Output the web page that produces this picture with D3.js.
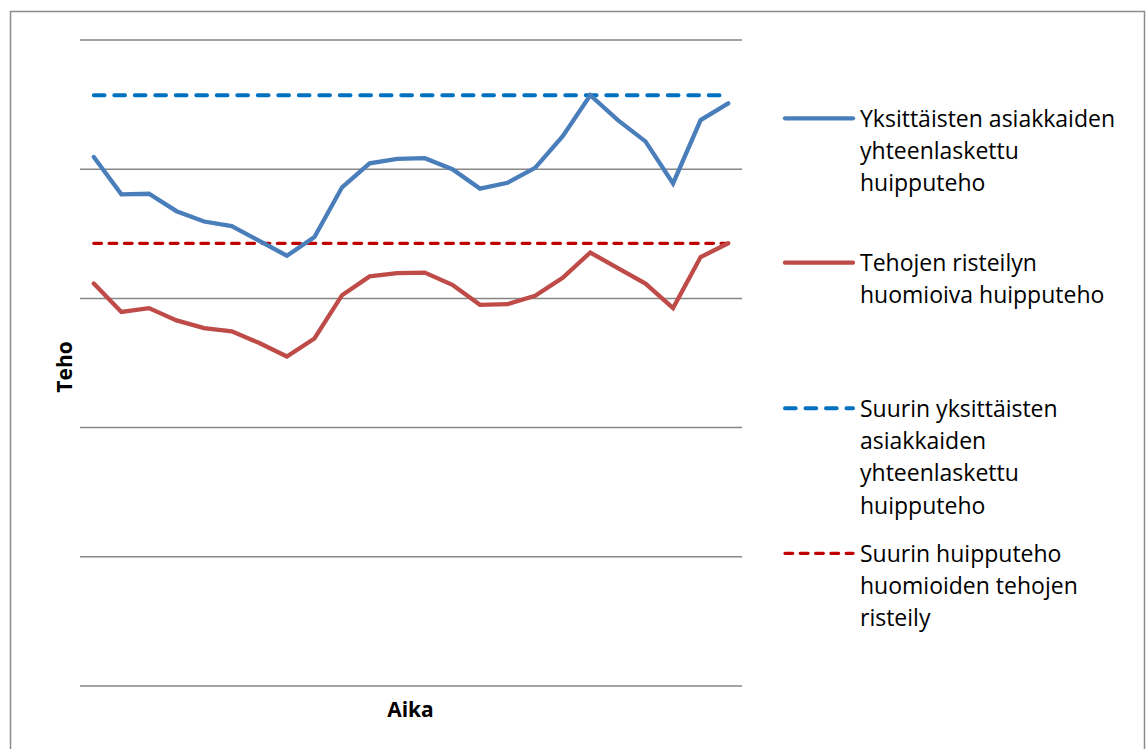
<!DOCTYPE html>
<html><head><meta charset="utf-8">
<script src="https://cdn.jsdelivr.net/npm/d3@7"></script>
<style>body{margin:0;background:#fff}svg{display:block}</style>
</head><body>
<svg id="c" width="1146" height="749"></svg>
<script>
const categories = d3.range(1, 25).map(String);
const yksittaiset = [81.9, 76.1, 76.2, 73.5, 71.9, 71.2, 68.9, 66.6, 69.5, 77.2, 80.9, 81.6,
                     81.7, 80.0, 77.0, 77.9, 80.2, 85.1, 91.45, 87.6, 84.3, 77.8, 87.6, 90.2];
const risteily = [62.3, 57.9, 58.5, 56.6, 55.4, 54.9, 53.1, 51.0, 53.8, 60.5, 63.4, 63.9,
                  64.0, 62.1, 59.0, 59.1, 60.4, 63.2, 67.1, 64.7, 62.3, 58.5, 66.4, 68.53];
const yTicks = [0, 20, 40, 60, 80, 100];
const seriesNames = [
  ["Yksittäisten asiakkaiden", "yhteenlaskettu", "huipputeho"],
  ["Tehojen risteilyn", "huomioiva huipputeho"],
  ["Suurin yksittäisten", "asiakkaiden", "yhteenlaskettu", "huipputeho"],
  ["Suurin huipputeho", "huomioiden tehojen", "risteily"]
];
const xTitle = "Aika", yTitle = "Teho";

const svg = d3.select("#c");
const FONT = "'Open Sans', sans-serif";
svg.append("rect").attr("x", 10.5).attr("y", 11.5).attr("width", 1134).attr("height", 760)
  .attr("fill", "#fff").attr("stroke", "#8c8c8c").attr("stroke-width", 1.5);

const x = d3.scalePoint().domain(categories).range([80, 742]).padding(0.5);
const y = d3.scaleLinear().domain([0, 100]).range([686, 40]);

svg.append("g").selectAll("line").data(yTicks).join("line")
  .attr("x1", 80).attr("x2", 742).attr("y1", d => y(d)).attr("y2", d => y(d))
  .attr("stroke", "#868686").attr("stroke-width", 1.5);

const styles = [
  {color: "#4a7ebb", w: 4.3, dash: null},
  {color: "#be4b48", w: 4.3, dash: null},
  {color: "#0070c0", w: 4, dash: "10.7,9.8"},
  {color: "#c00000", w: 3.3, dash: "7.7,7.6"}
];

const x0 = x(categories[0]), x1 = x(categories[categories.length - 1]);
const maxBlue = d3.max(yksittaiset), maxRed = d3.max(risteily);
[[maxBlue, styles[2]], [maxRed, styles[3]]].forEach(([v, s]) => {
  svg.append("line").attr("x1", x0).attr("x2", x1).attr("y1", y(v)).attr("y2", y(v))
    .attr("stroke", s.color).attr("stroke-width", s.w).attr("stroke-dasharray", s.dash)
    .attr("stroke-linecap", "round");
});

const line = d3.line().x((d, i) => x(categories[i])).y(d => y(d));
[[yksittaiset, styles[0]], [risteily, styles[1]]].forEach(([data, s]) => {
  svg.append("path").datum(data).attr("d", line).attr("fill", "none")
    .attr("stroke", s.color).attr("stroke-width", s.w)
    .attr("stroke-linejoin", "miter").attr("stroke-linecap", "round");
});

// legend
const legY = [118.3, 262.7, 408.3, 553.3];
const lg = svg.append("g");
seriesNames.forEach((lines, i) => {
  const s = styles[i];
  lg.append("line").attr("x1", 785).attr("x2", 853).attr("y1", legY[i]).attr("y2", legY[i])
    .attr("stroke", s.color).attr("stroke-width", s.w).attr("stroke-dasharray", s.dash)
    .attr("stroke-linecap", "round");
  const t = lg.append("text").attr("x", 860).attr("y", legY[i] + 8.4)
    .attr("font-family", FONT).attr("font-size", 23).attr("fill", "#000");
  lines.forEach((l, j) => t.append("tspan").attr("x", 860).attr("dy", j ? 32.3 : 0).text(l));
});

svg.append("text").attr("x", 410.5).attr("y", 716.5).attr("text-anchor", "middle")
  .attr("font-family", FONT).attr("font-weight", "bold").attr("font-size", 21).text(xTitle);
svg.append("text").attr("transform", "translate(71.5,367) rotate(-90)").attr("text-anchor", "middle")
  .attr("font-family", FONT).attr("font-weight", "bold").attr("font-size", 21).text(yTitle);
</script>
</body></html>
